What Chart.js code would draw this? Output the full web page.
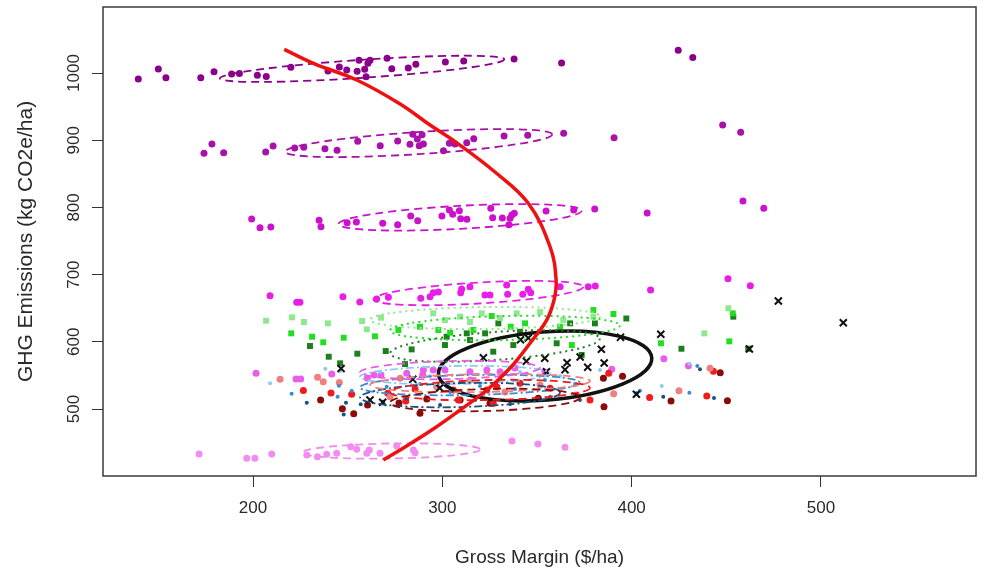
<!DOCTYPE html>
<html>
<head>
<meta charset="utf-8">
<title>GHG emissions and gross margin</title>
<script src="https://cdn.jsdelivr.net/npm/chart.js@4.4.1/dist/chart.umd.min.js"></script>
<style>
  html, body { margin: 0; padding: 0; background: #fff; }
</style>
</head>
<body>
<canvas id="scatter" width="987" height="572"></canvas>
<script>
// x: gross margin ($/ha), y: GHG emissions (kg CO2e/ha)
const xTicks = [200, 300, 400, 500];
const yTicks = [500, 600, 700, 800, 900, 1000];

// scenario rows, [gross margin, emissions]
const row1000 = [[139.4,991],[150,1006],[154,993],[172.4,993],[179.4,1002],[188.7,998.5],[192.8,999.5],[202.3,996.6],[207,995],[220,1008.5],[239.6,1003],[245.6,1009],[249.5,1004.5],[255,1002.5],[256,1019],[259,1005.5],[259.7,994.5],[260.7,1014.4],[261.8,1019],[270.8,1022],[273.3,1006.4],[282,1007.4],[286,1013],[301.6,1016.4],[311.3,1018],[337.9,1021],[363,1015],[424.6,1034],[432.3,1023]];
const row900 = [[174.1,880.5],[178.3,894.3],[184.5,881.4],[206.7,882.4],[210.6,891.4],[222,888.4],[226.8,889.4],[238,887.4],[244.4,885],[255.3,898.4],[267.2,891.8],[276.4,898.8],[284.4,908.8],[286.8,901.8],[289.3,908.2],[282.9,893.9],[287.8,891.8],[290,894.3],[300.6,884.4],[303.7,895.4],[306.7,894.3],[312.9,896.3],[316.6,902.2],[332.6,906.3],[345.1,907.3],[364.1,910.3],[390.7,903.7],[448.1,922.6],[457.6,911.8]];
const row800 = [[199.3,782.7],[203.7,769.8],[209.4,770.8],[234.9,780.8],[235.9,771.3],[249.7,777.2],[254.6,778.3],[268.5,776.3],[276.4,774.3],[283.3,787.2],[287,780.2],[299.8,787.2],[303.7,796.1],[305.5,789.7],[309,795.1],[309.7,783.2],[313,782.3],[325.6,798.7],[326.6,784.7],[331.7,784.2],[335.8,783.8],[336.7,788.7],[338,791.2],[335.2,774.3],[354.8,794.6],[369.4,796.1],[380.5,797.6],[408.2,791.7],[458.8,809.5],[469.8,798.7]];
const row670 = [[209,668.6],[223.1,658.8],[224.8,658.8],[247.5,667.1],[256.4,659.2],[265.3,663.7],[271.5,666.2],[288.6,664.7],[293.5,667.1],[295.2,673.1],[297.9,674.1],[310.2,678.6],[314.6,682],[309.7,673.1],[322.5,669.6],[325.2,669.6],[334,684.5],[334.5,670.7],[342.5,670.7],[345.4,678.1],[346.7,673.1],[362.2,682],[377.1,682],[380.8,683],[410,677.1],[450.9,693.9],[462.7,683.5]];
const row550 = [[201.6,553.1],[222.7,544.6],[225.2,544.6],[241.6,552.1],[260.4,545.7],[263.9,550.6],[267.6,550.6],[281.2,553.1],[289.6,550.6],[290,558],[295.2,558],[301.4,558],[314.6,555.5],[323.5,558],[330.5,555.5],[338.4,561],[354.2,555],[389.5,559.1],[417,574.9],[430,564.4]];
const row435 = [[171.5,433],[196.7,426.6],[201,426.6],[209.9,433],[228.4,431.5],[234,429],[238.9,432.6],[244.2,434.1],[251.6,444],[254.8,440],[260.1,434.1],[261.4,439],[267.1,434.1],[275.9,445.1],[284.7,439],[285.6,435],[336.8,452.4],[350.5,448],[364.8,443]];

const greenLight = [[206.9,631.4],[220.6,636.4],[226.9,629.5],[239.6,627.5],[257.6,631],[260.1,618.6],[267.6,635.9],[295.2,642.4],[301.4,632.4],[309.4,637.4],[314.6,629.5],[320.8,642.4],[330.5,635.4],[339.3,642.4],[351.6,644.3],[363.9,632.4],[379.8,637.4],[438.4,612.6],[451.1,649.9]];
const greenMid = [[220.2,612.6],[231.2,607.6],[237.1,599.3],[247.9,606.1],[264.4,608.2],[276.8,617.6],[288.2,622.5],[297.9,617.6],[304.1,613.5],[316.4,617.6],[326.1,638.4],[336.1,622.5],[343.7,627.5],[362.2,622.5],[368.4,595.2],[379.8,647.3],[390.4,641.4],[415.5,597.8],[451.6,600.7],[453.4,642.4]];
const greenDark = [[230.1,593.8],[240,577.8],[246,568],[255.1,582.3],[270.1,586.3],[280.3,566.9],[283.8,588.7],[301.4,595.2],[302.3,607.6],[312.9,612.6],[314.6,602.7],[322.6,612.6],[326.9,585.3],[329.6,627.5],[337.5,595.2],[341,615],[360.4,597.8],[367.5,627.5],[373.6,580.4],[380.6,627.5],[397.2,634.7],[426.3,589.7],[453.7,637.4],[461.6,589.7]];

const redLight = [[214.3,544.2],[234.1,547.2],[237.1,540.6],[245.6,539.4],[272.4,518.3],[277.7,545.7],[297,533.2],[314.6,543.2],[333.1,525.3],[351.6,535.7],[371,520.8],[390.5,522.8],[425,527.2],[441.4,560.6]];
const redMid = [[226.6,527.5],[241.2,523.8],[252.1,521.9],[271.2,523.4],[280.7,511.9],[285.6,529.8],[305.8,528.3],[308.5,513.4],[323.5,528.3],[326.9,508.5],[328.7,533.2],[341,538.2],[356.9,530.8],[378,513.4],[387.9,553.1],[409.5,517.1],[439.7,519.3],[443.2,556.1]];
const redDark = [[235.7,513.4],[247.2,500.4],[253.2,492.9],[260.5,506],[277.1,508.9],[288.2,493.6],[291.8,514.9],[309.4,513.4],[325.2,508.5],[350.7,515.9],[385.1,545.7],[395.2,548.7],[385.4,503.4],[420.8,511.9],[446.8,554],[450.6,512.4]];

const blueLight = [[209,538.2],[238.2,560],[246,556.5],[267.1,555],[293.5,549.1],[314.6,544.6],[341,555],[362.2,549.1],[383.3,558],[415.9,534.2],[430.5,567.4]];
const blueMid = [[220.4,522.8],[245.4,534.7],[252.1,527.2],[244.7,518.3],[270.6,533.2],[288.2,537.2],[304.1,525.3],[319.9,534.2],[338.4,529.8],[354.2,543.2],[370.1,537.2],[404.4,527.2],[430.5,524.3],[434.7,564]];
const blueDark = [[228.4,509.4],[249.1,509.4],[247.9,491.8],[256.9,507],[268.8,510.9],[281.2,515.9],[298.8,506],[317.3,513.4],[335.8,507.4],[356.9,517.9],[372.7,513.4],[402.7,523.4],[416.7,518.3],[436.1,559.1],[443.5,516.4]];

const baseline = [[246.5,560.3],[261.8,513.4],[268.5,510],[284.4,544.2],[298.6,531.3],[321.7,576.2],[341.3,603.1],[345.4,605.7],[344.4,571.1],[354.1,575.5],[355,555.5],[365.9,568.9],[364.8,558.5],[372.8,577.4],[376.8,562.1],[384,588.9],[385.5,568.5],[394.1,606.7],[402.5,522],[415.4,611.2],[462.2,589.3],[477.5,660.7],[511.8,628.4]];

// trade-off frontier
const frontierGM  = [216.5, 231.9, 254.8, 277.7, 293.5, 307.8, 327.8, 345.3, 356.9, 360.1, 359, 355.1, 346.3, 335.8, 323.6, 309.4, 295.2, 280.3, 268.8];
const frontierGHG = [1035.3, 1014.4, 989.6, 953.9, 922.6, 895.8, 852.7, 806.5, 741.5, 692, 662.2, 632.4, 597.8, 561, 528.3, 498.5, 470.2, 443.5, 424.1];

// ellipses: [centre GM, centre GHG, half-width GM, half-height GHG, tilt GHG per GM]
const ell1000 = [257.6, 1006.3, 75.3, 13.4, 0.189];
const ell900  = [287.5, 895.8, 70.7, 16.4, 0.183];
const ell800  = [309.4, 785.3, 64.3, 17.1, 0.154];
const ell670  = [319, 672.6, 55.5, 15.6, 0.169];
const ell550  = [304, 558, 47.5, 13.4, 0.07];
const ell435  = [272.9, 437.5, 47, 11.2, 0.05];
const ellGreenLight = [322.6, 635.4, 60.7, 16.4, 0.04];
const ellGreenMid   = [333.1, 620.5, 60.7, 17.9, 0.06];
const ellGreenDark  = [327.8, 593.8, 55.5, 20.8, 0.2];
const ellRedLight = [319.9, 538.7, 58.1, 13.4, 0.05];
const ellRedMid   = [325.2, 528.3, 52.8, 14.9, 0.06];
const ellRedDark  = [322.6, 513.4, 50.2, 16.4, 0.08];
const ellBlueLight = [306.7, 550.6, 50.2, 13.4, 0.05];
const ellBlueMid   = [314.6, 535.7, 58.1, 14.9, 0.06];
const ellBlueDark  = [309.4, 520.8, 52.8, 17.9, 0.07];
const ellBaseline  = [354.3, 564, 56.5, 50.6, 0.222];

const FONT = '"Liberation Sans", Arial, Helvetica, sans-serif';
const TEXT = '#2a2a2a';
const DOTS = [2, 4], DASH = [8, 5], DASHDOT = [8, 3, 2, 3];

// drawing styles per group
const groups = [
  { pts: baseline,   ell: ellBaseline,   color: '#111111', shape: 'crossRot', r: 5,   dash: [],      lw: 3.5 },
  { pts: blueLight,  ell: ellBlueLight,  color: '#8ccbf0', shape: 'circle',   r: 2,   dash: DASHDOT, lw: 1.8 },
  { pts: blueMid,    ell: ellBlueMid,    color: '#3a8ad0', shape: 'circle',   r: 2,   dash: DASHDOT, lw: 1.8 },
  { pts: blueDark,   ell: ellBlueDark,   color: '#1c4f80', shape: 'circle',   r: 2,   dash: DASHDOT, lw: 1.8 },
  { pts: redLight,   ell: ellRedLight,   color: '#f08080', shape: 'circle',   r: 3.5, dash: DASH,    lw: 1.8 },
  { pts: redMid,     ell: ellRedMid,     color: '#ee1c1c', shape: 'circle',   r: 3.5, dash: DASH,    lw: 1.8 },
  { pts: redDark,    ell: ellRedDark,    color: '#8b0a0a', shape: 'circle',   r: 3.5, dash: DASH,    lw: 1.8 },
  { pts: greenLight, ell: ellGreenLight, color: '#8ee88e', shape: 'rect',     r: 4.2, dash: DOTS,    lw: 2 },
  { pts: greenMid,   ell: ellGreenMid,   color: '#22dd22', shape: 'rect',     r: 4.2, dash: DOTS,    lw: 2 },
  { pts: greenDark,  ell: ellGreenDark,  color: '#1f7f1f', shape: 'rect',     r: 4.2, dash: DOTS,    lw: 2 },
  { pts: row435,     ell: ell435,        color: '#f28cf0', shape: 'circle',   r: 3.5, dash: DASH,    lw: 1.8 },
  { pts: row550,     ell: ell550,        color: '#ea5cea', shape: 'circle',   r: 3.5, dash: DASH,    lw: 1.8 },
  { pts: row670,     ell: ell670,        color: '#e61ee6', shape: 'circle',   r: 3.5, dash: DASH,    lw: 1.8 },
  { pts: row800,     ell: ell800,        color: '#cc11cc', shape: 'circle',   r: 3.5, dash: DASH,    lw: 1.8 },
  { pts: row900,     ell: ell900,        color: '#a812a8', shape: 'circle',   r: 3.5, dash: DASH,    lw: 1.8 },
  { pts: row1000,    ell: ell1000,       color: '#8b008b', shape: 'circle',   r: 3.5, dash: DASH,    lw: 1.8 }
];

const datasets = [{
  type: 'line',
  data: frontierGM.map((gm, i) => ({ x: gm, y: frontierGHG[i] })),
  showLine: true,
  borderColor: '#ee1111',
  borderWidth: 3.5,
  pointRadius: 0,
  tension: 0.4,
  fill: false
}];
groups.forEach(g => {
  const cross = g.shape === 'crossRot';
  datasets.push({
    data: g.pts.map(p => ({ x: p[0], y: p[1] })),
    pointStyle: g.shape,
    pointRadius: g.r,
    pointBackgroundColor: g.color,
    pointBorderColor: g.color,
    pointBorderWidth: cross ? 2 : 0,
    showLine: false
  });
});

// ellipses go on just before the frontier so the curve stays on top
const ellipsePlugin = {
  id: 'ellipses',
  beforeDatasetDraw(chart, args) {
    if (args.index !== 0) return;
    const { ctx, chartArea: a, scales: { x, y } } = chart;
    ctx.save();
    ctx.beginPath();
    ctx.rect(a.left, a.top, a.width, a.height);
    ctx.clip();
    groups.forEach(g => {
      const [cx, cy, hw, hh, tilt] = g.ell;
      const px = x.getPixelForValue(cx), py = y.getPixelForValue(cy);
      const rx = Math.abs(x.getPixelForValue(cx + hw) - px);
      const ry = Math.abs(y.getPixelForValue(cy + hh) - py);
      const ang = Math.atan2(y.getPixelForValue(cy + tilt) - py, x.getPixelForValue(cx + 1) - px);
      ctx.beginPath();
      ctx.ellipse(px, py, rx, ry, ang, 0, Math.PI * 2);
      ctx.strokeStyle = g.color;
      ctx.lineWidth = g.lw;
      ctx.setLineDash(g.dash);
      ctx.stroke();
    });
    ctx.restore();
  }
};

// box round the plot and vertical y tick labels
const framePlugin = {
  id: 'frame',
  afterDraw(chart) {
    const { ctx, chartArea: a, scales: { y } } = chart;
    ctx.save();
    ctx.strokeStyle = '#3a3a3a';
    ctx.lineWidth = 1.5;
    ctx.strokeRect(a.left, a.top, a.width, a.height);
    ctx.font = '17px ' + FONT;
    ctx.fillStyle = TEXT;
    ctx.textAlign = 'center';
    ctx.textBaseline = 'alphabetic';
    y.ticks.forEach(t => {
      ctx.save();
      ctx.translate(y.right - 24, y.getPixelForValue(t.value));
      ctx.rotate(-Math.PI / 2);
      ctx.fillText(String(t.value), 0, 0);
      ctx.restore();
    });
    ctx.restore();
  }
};

new Chart(document.getElementById('scatter'), {
  type: 'scatter',
  data: { datasets },
  plugins: [ellipsePlugin, framePlugin],
  options: {
    responsive: false,
    animation: false,
    devicePixelRatio: 1,
    layout: { padding: { top: 7, right: 11, left: 0, bottom: 0 } },
    plugins: { legend: { display: false }, tooltip: { enabled: false } },
    scales: {
      x: {
        type: 'linear',
        min: 120.76,
        max: 581.9,
        afterBuildTicks: s => { s.ticks = xTicks.map(v => ({ value: v })); },
        afterFit: s => { s.height = 96; },
        border: { display: false },
        grid: { drawOnChartArea: false, drawTicks: true, tickLength: 11, color: '#333', lineWidth: 1 },
        ticks: { font: { family: FONT, size: 17 }, color: TEXT, padding: 11, maxRotation: 0 },
        title: { display: true, text: 'Gross Margin ($/ha)', font: { family: FONT, size: 19 }, color: TEXT, padding: { top: 0, bottom: 3 } }
      },
      y: {
        type: 'linear',
        min: 400.3,
        max: 1098.3,
        afterBuildTicks: s => { s.ticks = yTicks.map(v => ({ value: v })); },
        afterFit: s => { s.width = 103; },
        border: { display: false },
        grid: { drawOnChartArea: false, drawTicks: true, tickLength: 11, color: '#333', lineWidth: 1 },
        ticks: { display: false },
        title: { display: true, text: 'GHG Emissions (kg CO2e/ha)', font: { family: FONT, size: 21 }, color: TEXT, padding: { top: 14, bottom: 0 } }
      }
    }
  }
});
</script>
</body>
</html>
